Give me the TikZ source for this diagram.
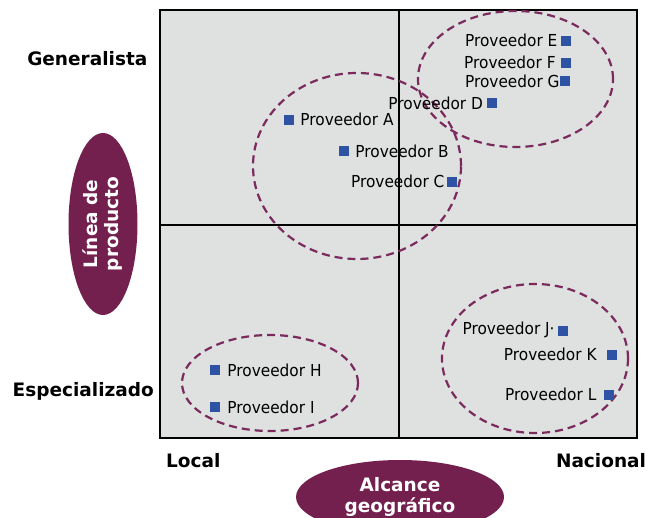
\documentclass[tikz,border=0pt]{standalone}
\usepackage{fontspec}
\setmainfont{DejaVu Sans}
\newfontfamily\provfont[FakeStretch=0.93]{DejaVu Sans}
\usepackage{xcolor}
\usepackage{tikz}
\usetikzlibrary{positioning,shapes.geometric}

\definecolor{vino}{HTML}{74204F}
\definecolor{trazo}{HTML}{7A2A5C}
\definecolor{azul}{HTML}{2E52A4}
\definecolor{fondo}{HTML}{DFE0E0}

\begin{document}
\begin{tikzpicture}[
  x=1pt, y=-1pt,
  quad/.style={draw=black, line width=2pt, fill=fondo},
  grupo/.style={draw=trazo, line width=2.2pt, dash pattern=on 8pt off 5pt},
  prov/.style={fill=azul, minimum size=10pt, inner sep=0pt},
  plabel/.style={inner sep=0pt, text height=12pt, text depth=0pt, font=\provfont\fontsize{16.5}{19}\selectfont},
  eje/.style={inner sep=0pt, anchor=base, font=\fontsize{18.5}{22}\selectfont\bfseries},
  oval/.style={ellipse, fill=vino, text=white, inner sep=0pt, align=center, font=\fontsize{18.5}{21}\selectfont\bfseries}
]
\useasboundingbox (0,0) rectangle (647,518);
\clip (0,0) rectangle (647,518);

% matriz
\filldraw[quad] (160,10) rectangle (637,438);
\draw[line width=2pt] (399,10) -- (399,438);
\draw[line width=2pt] (160,225) -- (637,225);

% ejes
\node[eje] (gen) at (87.3,65.7) {Generalista};
\node[eje] (esp) at (83.3,396) {Especializado};
\node[eje] (loc) at (193.3,467) {Local};
\node[eje] (nac) at (601,467) {Nacional};
\node[oval, rotate=90, minimum width=182pt, minimum height=69pt] (linea) at (103,224) {Línea de\\producto};
\node[oval, minimum width=208pt, minimum height=74pt] (alcance) at (400,497) {Alcance\\geográfico};

% grupos
\draw[grupo] (357,166) ellipse [x radius=104pt, y radius=93pt];
\draw[grupo] (515.5,79) ellipse [x radius=97.5pt, y radius=68pt];
\draw[grupo] (270,383) ellipse [x radius=88pt, y radius=48pt];
\draw[grupo] (535,358.5) ellipse [x radius=93pt, y radius=74.5pt];

% proveedores
\node[prov] (a) at (288.5,120) {};
\node[prov] (b) at (343.5,151.5) {};
\node[prov] (c) at (451.5,182) {};
\node[prov] (d) at (491.7,103.5) {};
\node[prov] (e) at (565.5,41) {};
\node[prov] (f) at (565.7,63) {};
\node[prov] (g) at (565,81.3) {};
\node[prov] (h) at (215,370) {};
\node[prov] (i) at (215,407) {};
\node[prov] (j) at (563.3,330.7) {};
\node[prov] (k) at (612,354.7) {};
\node[prov] (l) at (609,394.7) {};

\node[plabel, right=6.5pt of a] (la) {Proveedor A};
\node[plabel, right=6.5pt of b] (lb) {Proveedor B};
\node[plabel, left=1.7pt of c] (lc) {Proveedor C};
\node[plabel, left=3.4pt of d] (ld) {Proveedor D};
\node[plabel, left=2.7pt of e] (le) {Proveedor E};
\node[plabel, left=4.7pt of f] (lf) {Proveedor F};
\node[plabel, left=0pt of g] (lg) {Proveedor G};
\node[plabel, right=7pt of h] (lh) {Proveedor H};
\node[plabel, right=7pt of i] (li) {Proveedor I};
\node[plabel, left=3.3pt of j, yshift=2.5pt] (lj) {Proveedor J·};
\node[plabel, left=10pt of k] (lk) {Proveedor K};
\node[plabel, left=7.3pt of l] (ll) {Proveedor L};
\end{tikzpicture}
\end{document}
